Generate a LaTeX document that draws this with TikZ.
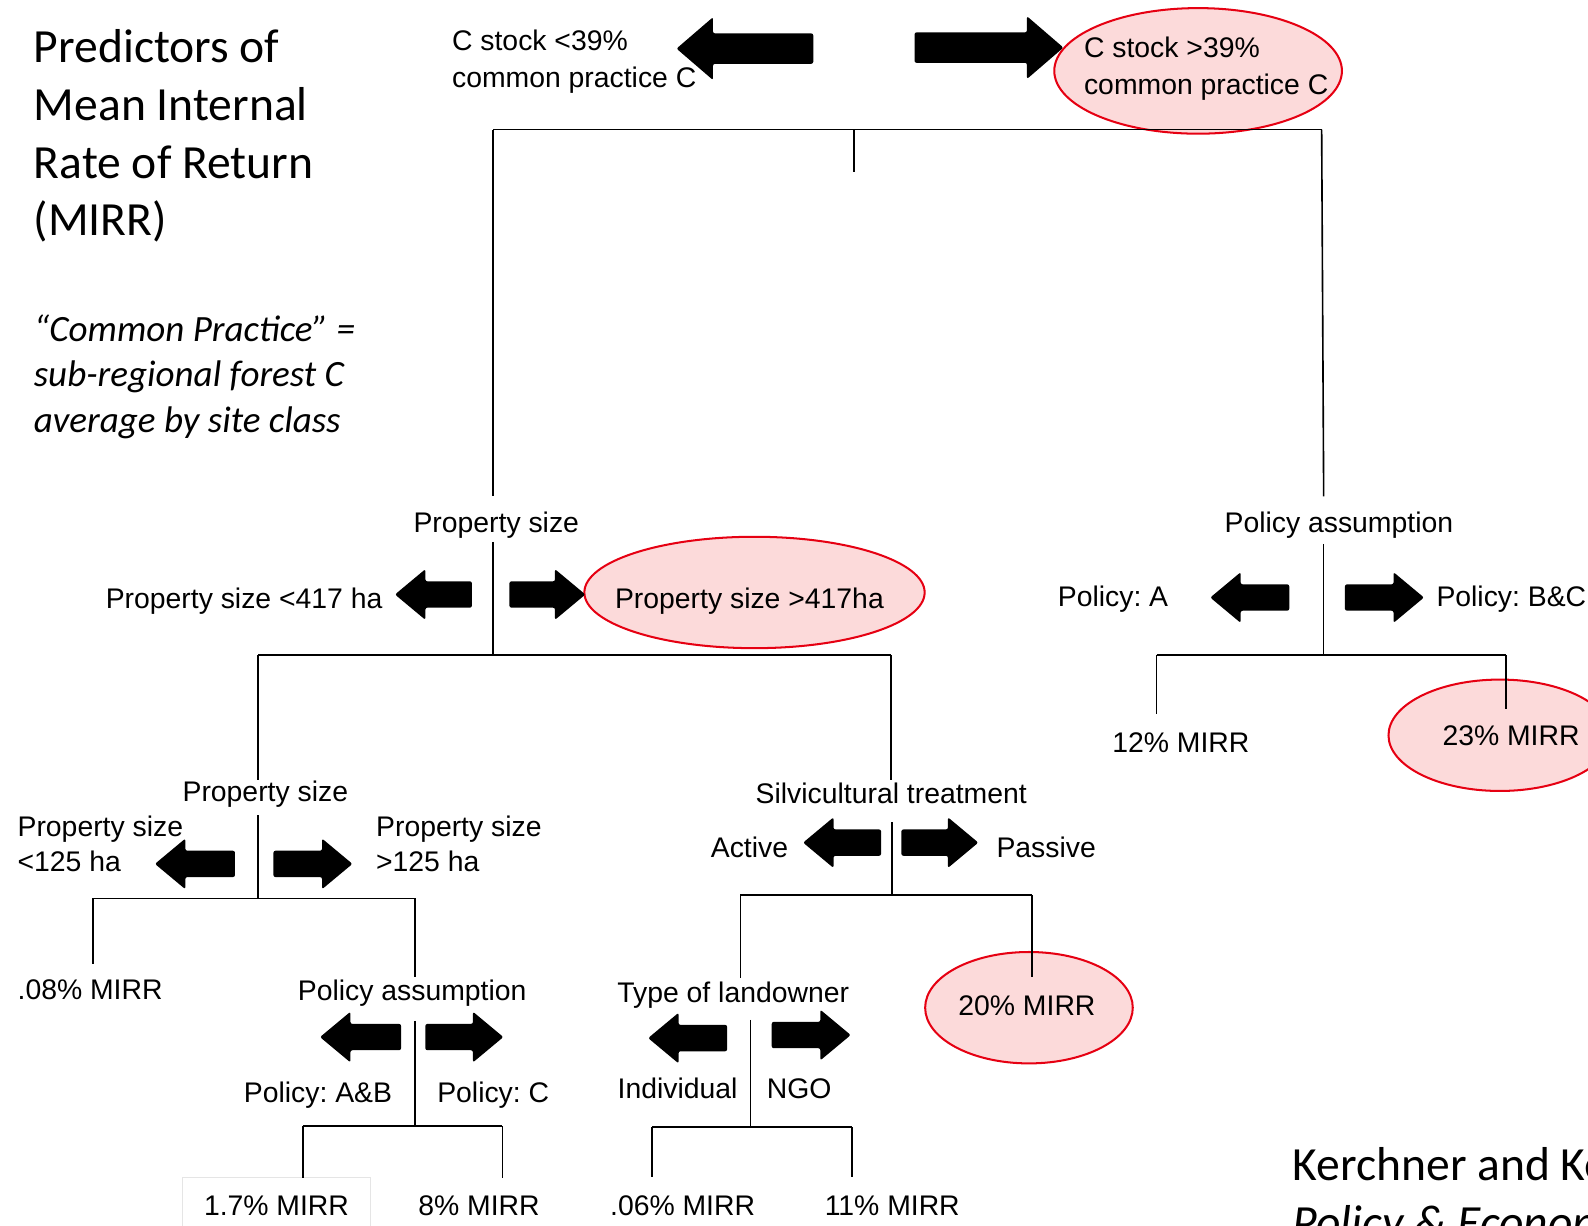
\documentclass[tikz,border=0pt]{standalone}
\usepackage{fontspec}
\setmainfont{Carlito}
\newfontfamily\treefont{Liberation Sans}
\usetikzlibrary{shapes.geometric}
\definecolor{ellfill}{HTML}{FCDADA}
\definecolor{ellline}{HTML}{E60012}
\frenchspacing
\newcommand\fatarr[6]{%
  \pgfmathsetmacro\fabase{#2-sign(#2-#1)*#6}%
  \fill[black,rounded corners=1pt] (#1,#3-#4) -- (\fabase,#3-#4) -- (\fabase,#3-#5) -- (#2,#3) -- (\fabase,#3+#5) -- (\fabase,#3+#4) -- (#1,#3+#4) -- cycle;}
\tikzset{
  tl/.style={font=\treefont\fontsize{14}{16}\selectfont, inner sep=0pt, anchor=mid, yshift=-2pt},
  title/.style={font=\fontsize{23.5}{28}\selectfont, inner sep=0pt, anchor=base west},
  note/.style={font=\fontsize{18.3}{22}\selectfont\itshape, inner sep=0pt, anchor=base west},
  hl/.style={draw=ellline, fill=ellfill, line width=1pt, ellipse, inner sep=0pt},
  br/.style={draw=black, line width=0.8pt},
}
\begin{document}
\begin{tikzpicture}[x=0.5pt,y=-0.5pt]
\useasboundingbox (0,0) rectangle (1568,1210);
\clip (0,0) rectangle (1568,1210);
\fill[white] (0,0) rectangle (1568,1210);

% left title and note
\node[title] (ti1) at (33,62) {Predictors of};
\node[title] (ti2) at (33,119) {Mean Internal};
\node[title] (ti3) at (33,176) {Rate of Return};
\node[title] (ti4) at (33,233) {(MIRR)};
\node[note] (no1) at (33,337) {“Common Practice” =};
\node[note] (no2) at (33,382) {sub-regional forest C};
\node[note] (no3) at (33,427) {average by site class};
\node[title] (ref1) at (1276,1166) {Kerchner and Keeton};
\node[title,font=\fontsize{23.5}{28}\selectfont\itshape] (ref2) at (1276,1223) {Policy \& Economics};

% highlight ellipses
\node[hl, minimum width=142pt, minimum height=62pt] (e0) at (1183,70) {};
\node[hl, minimum width=168pt, minimum height=55pt] (e1) at (745,585) {};
\node[hl, minimum width=110pt, minimum height=55pt] (e2) at (1481,726) {};
\node[hl, minimum width=102.5pt, minimum height=55pt] (e3) at (1016,995) {};
\draw[gray!20, line width=0.6pt] (180,1163) rectangle (366,1216);

% top level
\node[tl, anchor=mid west] (cl1) at (446,41) {C stock <39\%};
\node[tl, anchor=mid west] (cl2) at (446,78) {common practice C};
\node[tl, anchor=mid west] (cr1) at (1070,48) {C stock >39\%};
\node[tl, anchor=mid west] (cr2) at (1070,85) {common practice C};
\fatarr{803}{668}{48}{15}{31}{36}
\fatarr{903}{1050}{47}{15}{31}{36}

% tree coordinates
\coordinate (a1) at (487,128); \coordinate (a2) at (1305,128);
\coordinate (a3) at (843,128); \coordinate (a4) at (843,170);
\coordinate (a5) at (487,490); \coordinate (a6) at (1307,490);
\draw[br] (a1) -- (a2);
\draw[br] (a3) -- (a4);
\draw[br] (a1) -- (a5);
\draw[br] (a2) -- (a6);

% property size (417)
\node[tl] (ps1) at (490,517) {Property size};
\node[tl, anchor=mid east] (ps1l) at (378,592) {Property size <417 ha};
\node[tl] (ps1r) at (740,592) {Property size >417ha};
\fatarr{466}{390}{587}{13}{25}{30}
\fatarr{503}{578}{587}{13}{25}{30}
\coordinate (b1) at (487,535); \coordinate (b2) at (487,647);
\coordinate (b3) at (255,647); \coordinate (b4) at (880,647);
\coordinate (b5) at (255,770); \coordinate (b6) at (880,770);
\draw[br] (b1) -- (b2);
\draw[br] (b3) -- (b4);
\draw[br] (b3) -- (b5);
\draw[br] (b4) -- (b6);

% policy assumption (right)
\node[tl] (pa1) at (1322,517) {Policy assumption};
\node[tl] (pa1l) at (1099,590) {Policy: A};
\node[tl, anchor=mid west] (pa1r) at (1418,590) {Policy: B\&C};
\fatarr{1273}{1195}{590}{13}{25}{30}
\fatarr{1328}{1406}{590}{13}{25}{30}
\coordinate (c1) at (1307,537); \coordinate (c2) at (1307,647);
\coordinate (c3) at (1142,647); \coordinate (c4) at (1487,647);
\coordinate (c5) at (1142,705); \coordinate (c6) at (1487,700);
\draw[br] (c1) -- (c2);
\draw[br] (c3) -- (c4);
\draw[br] (c3) -- (c5);
\draw[br] (c4) -- (c6);
\node[tl] (m12) at (1166,734) {12\% MIRR};
\node[tl] (m23) at (1492,727) {23\% MIRR};

% property size (125)
\node[tl] (ps2) at (262,783) {Property size};
\node[tl, anchor=mid west] (ps2l1) at (17,817) {Property size};
\node[tl, anchor=mid west] (ps2l2) at (17,852) {<125 ha};
\node[tl, anchor=mid west] (ps2r1) at (371,817) {Property size};
\node[tl, anchor=mid west] (ps2r2) at (371,852) {>125 ha};
\fatarr{232}{153}{853}{13}{25}{30}
\fatarr{270}{348}{853}{13}{25}{30}
\coordinate (d1) at (255,805); \coordinate (d2) at (255,887);
\coordinate (d3) at (92,887); \coordinate (d4) at (410,887);
\coordinate (d5) at (92,952); \coordinate (d6) at (410,965);
\draw[br] (d1) -- (d2);
\draw[br] (d3) -- (d4);
\draw[br] (d3) -- (d5);
\draw[br] (d4) -- (d6);
\node[tl, anchor=mid west] (m008) at (17,978) {.08\% MIRR};

% policy assumption (low)
\node[tl] (pa2) at (407,979) {Policy assumption};
\node[tl] (pa2l) at (314,1080) {Policy: A\&B};
\node[tl] (pa2r) at (487,1080) {Policy: C};
\fatarr{396}{316}{1024}{13}{25}{30}
\fatarr{420}{497}{1024}{13}{25}{30}
\coordinate (f1) at (410,1008); \coordinate (f2) at (410,1112);
\coordinate (f3) at (299,1112); \coordinate (f4) at (496,1112);
\coordinate (f5) at (299,1163); \coordinate (f6) at (496,1163);
\draw[br] (f1) -- (f2);
\draw[br] (f3) -- (f4);
\draw[br] (f3) -- (f5);
\draw[br] (f4) -- (f6);
\node[tl] (m17) at (273,1191) {1.7\% MIRR};
\node[tl] (m8) at (473,1191) {8\% MIRR};

% silvicultural treatment
\node[tl] (st) at (880,785) {Silvicultural treatment};
\node[tl] (stl) at (740,838) {Active};
\node[tl] (str) at (1033,838) {Passive};
\fatarr{870}{793}{832}{13}{25}{30}
\fatarr{890}{966}{832}{13}{25}{30}
\coordinate (g1) at (881,812); \coordinate (g2) at (881,884);
\coordinate (g3) at (731,884); \coordinate (g4) at (1019,884);
\coordinate (g5) at (731,966); \coordinate (g6) at (1019,965);
\draw[br] (g1) -- (g2);
\draw[br] (g3) -- (g4);
\draw[br] (g3) -- (g5);
\draw[br] (g4) -- (g6);
\node[tl] (m20) at (1014,994) {20\% MIRR};

% type of landowner
\node[tl] (tol) at (724,981) {Type of landowner};
\node[tl] (toll) at (669,1076) {Individual};
\node[tl] (tolr) at (789,1076) {NGO};
\fatarr{718}{640}{1025}{13}{25}{30}
\fatarr{762}{840}{1022}{13}{25}{30}
\coordinate (h1) at (741,1007); \coordinate (h2) at (741,1113);
\coordinate (h3) at (644,1113); \coordinate (h4) at (841,1113);
\coordinate (h5) at (644,1162); \coordinate (h6) at (841,1162);
\draw[br] (h1) -- (h2);
\draw[br] (h3) -- (h4);
\draw[br] (h3) -- (h5);
\draw[br] (h4) -- (h6);
\node[tl] (m006) at (674,1191) {.06\% MIRR};
\node[tl] (m11) at (881,1191) {11\% MIRR};
\end{tikzpicture}
\end{document}
